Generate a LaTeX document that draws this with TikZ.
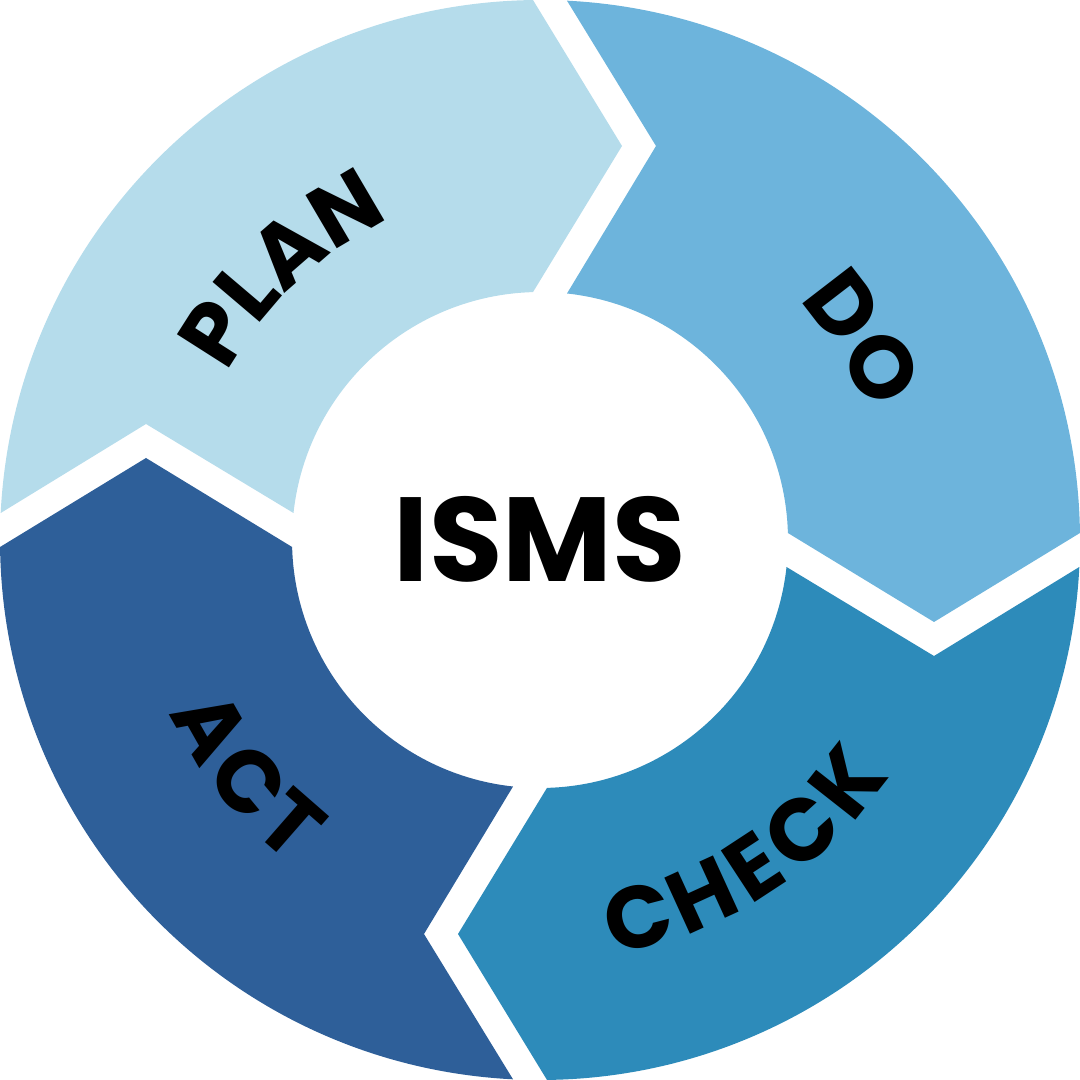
\documentclass[tikz,border=0pt]{standalone}
\usepackage{fontspec}
\setmainfont{Poppins}
\usepackage{tikz}
\usetikzlibrary{decorations.text}

\definecolor{planc}{HTML}{B5DCEB}
\definecolor{doc}{HTML}{6DB4DC}
\definecolor{checkc}{HTML}{2D8BBA}
\definecolor{actc}{HTML}{2E5F99}
\newcommand\lblfont{\fontsize{25}{25}\selectfont\bfseries}

\begin{document}
\begin{tikzpicture}[scale=0.01,
          lbl/.style={decorate, decoration={text along path, text align=center}},
          lblfit/.style={decorate, decoration={text along path, text align={fit to path}}},
          hub/.style={font=\fontsize{34}{34}\selectfont\bfseries, inner sep=0pt}
        ]
        \useasboundingbox (-540,-540) rectangle (540,540);
        % one arrow segment, turned four times
        \foreach \rot/\col in {0/planc, -90/doc, -180/checkc, -270/actc}
          \fill[\col, rotate=\rot]
            ({180-asin(27/540)}:540)
              arc[start angle={180-asin(27/540)}, end angle={90+asin(7/540)}, radius=540]
              -- (82,394)
              -- ({90+asin(7/248)}:248)
              arc[start angle={90+asin(7/248)}, end angle={180-asin(27/248)}, radius=248]
              -- (-394,116) -- cycle;

        \node[hub] (isms) at (0,1) {ISMS};

        \path[lbl, decoration={text={|\lblfont|PLAN}}]
          (163.5:354) arc[start angle=163.5, end angle=103.5, radius=354];
        \path[lbl, decoration={text={|\lblfont|DO}}]
          (62:352) arc[start angle=62, end angle=2, radius=352];
        \path[lblfit, decoration={text={|\lblfont|CHECK}}]
          (-80:421) arc[start angle=-80, end angle=-34, radius=421];
        \path[lblfit, decoration={text={|\lblfont|ACT}}]
          (205:409) arc[start angle=205, end angle=232.5, radius=409];
      \end{tikzpicture}
\end{document}
